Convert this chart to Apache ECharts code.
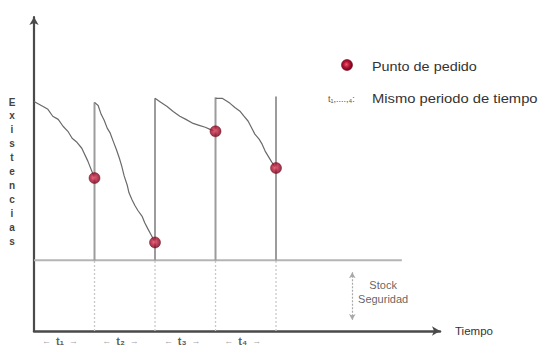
<!DOCTYPE html>
<html>
<head>
<meta charset="utf-8">
<script src="https://cdn.jsdelivr.net/npm/echarts@6/dist/echarts.min.js"></script>
<style>
  html, body { margin: 0; padding: 0; background: #fff; }
  #chart { width: 538px; height: 347px; }
</style>
</head>
<body>
<div id="chart"></div>
<script>
// Inventory level over time: four replenishment cycles (time in periods, stock in units)
const cycle1 = [[0,73.1],[0.15,71.5],[0.23,70.6],[0.31,68.4],[0.40,67.4],[0.48,65.2],[0.56,63.6],[0.63,61.4],[0.71,60.1],[0.79,58.2],[0.89,54.1],[1,48.7]];
const cycle2 = [[1,72.8],[1.06,71.8],[1.11,69.0],[1.16,67.1],[1.21,64.6],[1.26,63.0],[1.31,60.4],[1.36,57.9],[1.41,55.1],[1.45,52.5],[1.49,49.4],[1.54,46.5],[1.57,44.0],[1.62,41.8],[1.67,39.9],[1.72,38.3],[1.79,36.4],[1.83,34.5],[1.88,32.6],[1.95,30.1],[2,28.2]];
const cycle3 = [[2,74.1],[2.10,72.8],[2.20,71.5],[2.30,69.9],[2.41,68.4],[2.51,67.4],[2.63,66.1],[2.73,65.5],[2.83,64.9],[2.91,64.2],[3,63.6]];
const cycle4 = [[3,74.1],[3.11,74.1],[3.17,73.4],[3.24,72.5],[3.32,71.2],[3.41,69.9],[3.47,68.4],[3.54,66.8],[3.60,64.6],[3.65,62.7],[3.72,61.1],[3.77,59.5],[3.82,57.3],[3.87,55.7],[3.93,53.8],[4,51.9]];

// Reorder points and the level reached after each replenishment
const orderTimes = [1, 2, 3, 4];
const orderLevels = [48.7, 28.2, 63.6, 51.9];
const replenishLevels = [72.8, 74.1, 74.4, 74.7];

// Safety stock
const safetyStock = 22.5;
const safetyLineEnd = 6.08;
const safetyArrowX = 5.26;
const safetyArrowRange = [18.7, 3.5];
const safetyTextPos = [5.77, 12.5];

// Period labels under the time axis
const periodNames = ['t\u2081', 't\u2082', 't\u2083', 't\u2084'];
const periodLabelX = [0.43, 1.43, 2.45, 3.45];
const periodLabelY = -3.2;

const yAxisLetters = 'Existencias'.split('');

const xMax = 6.71;
const yMax = 100;

const curveColor = '#6a6a6a';
const vertColor = '#9c9c9c';
const axisColor = '#4a4a4a';

const dotFill = new echarts.graphic.RadialGradient(0.45, 0.45, 0.55, [
  { offset: 0, color: '#ee5a72' },
  { offset: 0.45, color: '#bb1838' },
  { offset: 1, color: '#6e0018' }
]);

const series = [];

[cycle1, cycle2, cycle3, cycle4].forEach(function (c, i) {
  series.push({
    name: 'ciclo' + (i + 1), type: 'line', data: c,
    symbol: 'none', smooth: false, silent: true,
    lineStyle: { color: curveColor, width: 1.2 }, z: 3
  });
});

orderTimes.forEach(function (t, i) {
  // solid replenishment line above the safety stock
  series.push({
    type: 'line', data: [[t, safetyStock], [t, replenishLevels[i]]],
    symbol: 'none', silent: true,
    lineStyle: { color: vertColor, width: 2 }, z: 2
  });
  // dotted guide down to the time axis
  series.push({
    type: 'line', data: [[t, 0], [t, safetyStock]],
    symbol: 'none', silent: true,
    lineStyle: { color: '#c8c8c8', width: 1.3, type: [2, 2] }, z: 1
  });
});

// Safety stock level with its double arrow
series.push({
  type: 'line', data: [[0, safetyStock], [safetyLineEnd, safetyStock]],
  symbol: 'none', silent: true,
  lineStyle: { color: '#b4b4b4', width: 2 }, z: 1,
  markLine: {
    silent: true, symbol: ['arrow', 'arrow'], symbolSize: [5, 6],
    label: { show: false },
    lineStyle: { color: '#a8a8a8', width: 1.2, type: [2, 1.5] },
    data: [[{ coord: [safetyArrowX, safetyArrowRange[0]] }, { coord: [safetyArrowX, safetyArrowRange[1]] }]]
  }
});

// Reorder points
series.push({
  type: 'scatter', data: orderTimes.map(function (t, i) { return [t, orderLevels[i]]; }),
  symbolSize: 11, silent: true,
  itemStyle: { color: dotFill, borderColor: '#7a0a20', borderWidth: 0.6 }, z: 5
});

// Period labels
series.push({
  type: 'scatter', clip: false, silent: true, symbolSize: 1,
  itemStyle: { color: 'rgba(0,0,0,0)' },
  data: periodLabelX.map(function (x, i) { return { value: [x, periodLabelY], name: periodNames[i] }; }),
  label: {
    show: true, position: 'inside',
    formatter: function (p) { return '{a|\u2190}{t|' + p.name + '}{a|\u2192}'; },
    rich: {
      a: { fontSize: 9, color: '#8a8a8a', padding: [0, 5, 0, 5], fontFamily: 'Liberation Sans' },
      t: { fontSize: 11, color: '#333', fontFamily: 'Liberation Sans', fontWeight: 'bold' }
    }
  }
});

// Safety stock caption
series.push({
  type: 'scatter', clip: false, silent: true, symbolSize: 1,
  itemStyle: { color: 'rgba(0,0,0,0)' },
  data: [safetyTextPos],
  label: {
    show: true, position: 'inside', formatter: 'Stock\nSeguridad',
    fontSize: 11, lineHeight: 14, color: '#3a3a3a', fontFamily: 'Liberation Sans', align: 'center'
  }
});

const chart = echarts.init(document.getElementById('chart'), null, { renderer: 'svg' });
chart.setOption({
  animation: false,
  backgroundColor: '#fff',
  grid: { left: 34, top: 17, right: 98, bottom: 16 },
  xAxis: {
    type: 'value', min: 0, max: xMax,
    name: 'Tiempo', nameLocation: 'end', nameGap: 15,
    nameTextStyle: { fontSize: 11.5, color: '#333', fontFamily: 'Liberation Sans', align: 'left', verticalAlign: 'middle' },
    axisLine: { show: true, onZero: false, symbol: ['none', 'arrow'], symbolSize: [7, 8],
      lineStyle: { color: axisColor, width: 2.5 } },
    axisTick: { show: false }, axisLabel: { show: false }, splitLine: { show: false }
  },
  yAxis: {
    type: 'value', min: 0, max: yMax,
    name: yAxisLetters.map(function (c) { return '{n|' + c + '}'; }).join('\n'),
    nameLocation: 'middle', nameRotate: 0, nameGap: 22,
    nameTextStyle: {
      align: 'center', verticalAlign: 'middle', lineHeight: 13.9, padding: [0, 0, 5, 0],
      rich: { n: { fontSize: 10, lineHeight: 13.9, height: 13.9, color: '#444', fontWeight: 'bold', fontFamily: 'Liberation Sans', align: 'center' } }
    },
    axisLine: { show: true, onZero: false, symbol: ['none', 'arrow'], symbolSize: [7, 8],
      lineStyle: { color: axisColor, width: 2.2 } },
    axisTick: { show: false }, axisLabel: { show: false }, splitLine: { show: false }
  },
  graphic: [
    { type: 'circle', shape: { cx: 347, cy: 65, r: 5.5 }, style: { fill: dotFill, stroke: '#7a0a20', lineWidth: 0.6 } },
    { type: 'text', x: 372, y: 67, scaleX: 1.2, originX: 0, originY: 0,
      style: { text: 'Punto de pedido', fontSize: 12, fill: '#333', fontFamily: 'Liberation Sans', verticalAlign: 'middle' } },
    { type: 'text', x: 328, y: 99,
      style: { text: 't\u2081,....,\u2084:', fontSize: 9, fill: '#555', fontFamily: 'Liberation Sans', verticalAlign: 'middle' } },
    { type: 'text', x: 372, y: 99, scaleX: 1.23, originX: 0, originY: 0,
      style: { text: 'Mismo periodo de tiempo', fontSize: 12, fill: '#333', fontFamily: 'Liberation Sans', verticalAlign: 'middle' } }
  ],
  series: series
});
</script>
</body>
</html>
